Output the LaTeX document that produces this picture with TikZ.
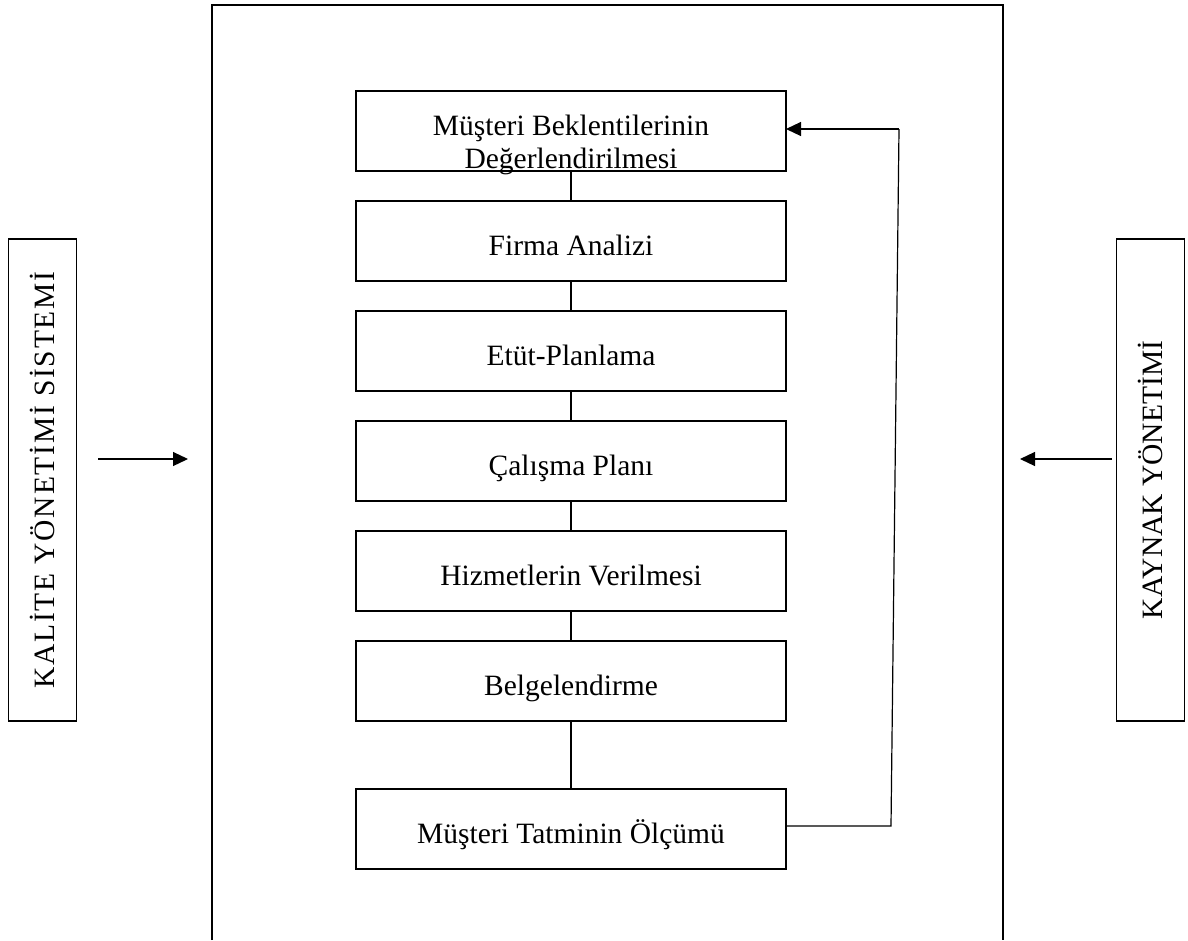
\documentclass[tikz,border=0pt]{standalone}
\usepackage{fontspec}
\setmainfont{Liberation Serif}
\usetikzlibrary{arrows.meta, positioning}

\tikzset{
  stagebox/.style={draw, line width=1.3pt, minimum width=430pt, minimum height=80pt,
    inner sep=0pt, outer sep=0pt, text height=28pt, text depth=0pt,
    font=\fontsize{29.5}{33}\selectfont},
  sidebox/.style={draw, line width=1.3pt, rotate=90, minimum width=482pt, minimum height=68pt,
    inner sep=0pt, font=\fontsize{29.5}{33}\selectfont},
  link/.style={line width=1.2pt},
  flow/.style={line width=1.2pt, -{Triangle[length=15pt,width=14pt]}}
}

\begin{document}
\begin{tikzpicture}[x=1pt, y=-1pt, node distance=30pt]
\useasboundingbox (0,0) rectangle (1188,940);

% outer frame (open at the bottom)
\draw[line width=1.5pt] (212,940) -- (212,5) -- (1003,5) -- (1003,940);

% process chain
\node[stagebox, label={[align=center, yshift=-14pt, font=\fontsize{29.5}{33}\selectfont]center:M\"u\c{s}teri Beklentilerinin\\De\u{g}erlendirilmesi}] (beklenti) at (571,131) {};
\node[stagebox, below=of beklenti] (analiz) {Firma Analizi};
\node[stagebox, below=of analiz] (etut) {Etüt-Planlama};
\node[stagebox, below=of etut] (calisma) {Çalışma Planı};
\node[stagebox, below=of calisma] (hizmet) {Hizmetlerin Verilmesi};
\node[stagebox, below=of hizmet] (belge) {Belgelendirme};
\node[stagebox, below=68pt of belge] (tatmin) {Müşteri Tatminin Ölçümü};

\foreach \a/\b in {beklenti/analiz, analiz/etut, etut/calisma, calisma/hizmet, hizmet/belge, belge/tatmin}
  \draw[link] (\a) -- (\b);

% feedback loop
\coordinate (geriAlt) at (891,826);
\coordinate (geriUst) at (899,129);
\draw[link] (tatmin.east |- geriAlt) -- (geriAlt) -- (geriUst);
\draw[flow] (geriUst) -- (geriUst -| beklenti.east);

% side systems
\node[sidebox, font=\fontsize{29.5}{33}\selectfont\addfontfeatures{LetterSpace=6}] (kalite) at (42.5,480) {KALİTE YÖNETİMİ SİSTEMİ};
\node[sidebox] (kaynak) at (1150.5,480) {KAYNAK YÖNETİMİ};

\coordinate (kaliteCikis) at (98,459);
\coordinate (kaliteGiris) at (188,459);
\coordinate (kaynakCikis) at (1112,459);
\coordinate (kaynakGiris) at (1020,459);
\draw[flow] (kaliteCikis) -- (kaliteGiris);
\draw[flow] (kaynakCikis) -- (kaynakGiris);
\end{tikzpicture}
\end{document}
